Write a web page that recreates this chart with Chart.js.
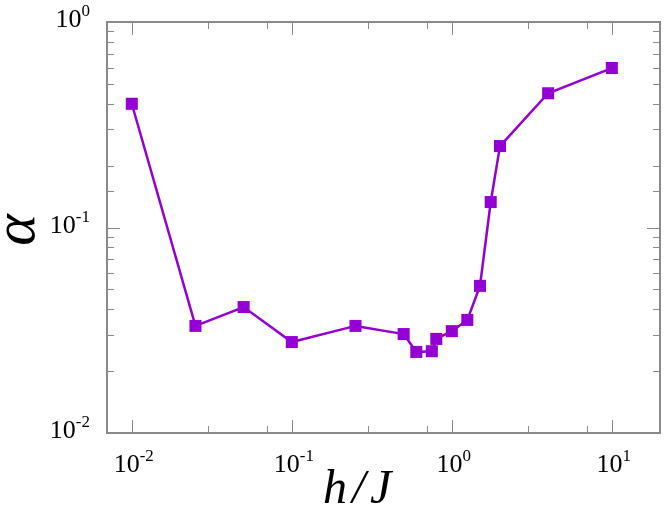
<!DOCTYPE html>
<html>
<head>
<meta charset="UTF-8">
<title>alpha vs h/J</title>
<script src="https://cdn.jsdelivr.net/npm/chart.js@4/dist/chart.umd.min.js"></script>
<style>
  body { margin: 0; background: #fff; }
</style>
</head>
<body>
<canvas id="myChart" width="664" height="512"></canvas>
<script>
// data (log-log)
var hJ    = [0.01, 0.025, 0.05, 0.1, 0.25, 0.5, 0.6, 0.75, 0.8, 1.0, 1.25, 1.5, 1.75, 2, 4, 10];
var alpha = [0.40, 0.0332, 0.041, 0.0277, 0.0332, 0.0303, 0.0248, 0.025, 0.0287, 0.0313, 0.0355, 0.052, 0.133, 0.249, 0.45, 0.597];

// decades that get a "10^n" label
var xDecades = [-2, -1, 0, 1];
var yDecades = [-2, -1, 0];

var SERIF = '"Liberation Serif", "Times New Roman", Times, serif';

var points = hJ.map(function(x, i) { return { x: x, y: alpha[i] }; });

function isDecade(v) {
  var l = Math.log10(v);
  return Math.abs(l - Math.round(l)) < 1e-6;
}

function powLabel(ctx, exp, x, y, align) {
  var base = '10', sup = String(exp);
  ctx.font = '26px ' + SERIF;
  var wb = ctx.measureText(base).width;
  ctx.font = '17px ' + SERIF;
  var ws = ctx.measureText(sup).width;
  var x0 = align === 'right' ? x - wb - ws : x - (wb + ws) / 2;
  ctx.textAlign = 'left';
  ctx.textBaseline = 'alphabetic';
  ctx.font = '26px ' + SERIF;
  ctx.fillText(base, x0, y);
  ctx.font = '17px ' + SERIF;
  ctx.fillText(sup, x0 + wb, y - 11);
}

var frame = {
  id: 'frame',
  afterDatasetsDraw: function(chart) {
    var ctx = chart.ctx, a = chart.chartArea;
    var xs = chart.scales.x, ys = chart.scales.y;
    ctx.save();
    ctx.strokeStyle = '#8a8a8a';
    ctx.lineWidth = 1;
    ctx.beginPath();
    xs.ticks.forEach(function(t) {
      var len = isDecade(t.value) ? 13 : 7;
      var px = Math.round(xs.getPixelForValue(t.value)) + 0.5;
      ctx.moveTo(px, a.bottom); ctx.lineTo(px, a.bottom - len);
      ctx.moveTo(px, a.top); ctx.lineTo(px, a.top + len);
    });
    ys.ticks.forEach(function(t) {
      var len = isDecade(t.value) ? 13 : 7;
      var py = Math.round(ys.getPixelForValue(t.value)) + 0.5;
      ctx.moveTo(a.left, py); ctx.lineTo(a.left + len, py);
      ctx.moveTo(a.right, py); ctx.lineTo(a.right - len, py);
    });
    ctx.stroke();
    ctx.lineWidth = 2;
    ctx.strokeRect(a.left, a.top, a.right - a.left, a.bottom - a.top);

    ctx.fillStyle = '#000';
    xDecades.forEach(function(e) {
      powLabel(ctx, e, xs.getPixelForValue(Math.pow(10, e)) + 2, a.bottom + 39, 'center');
    });
    yDecades.forEach(function(e) {
      powLabel(ctx, e, a.left - 17, ys.getPixelForValue(Math.pow(10, e)) + 5, 'right');
    });

    // axis titles
    ctx.font = 'italic 48px ' + SERIF;
    ctx.textAlign = 'left';
    ctx.textBaseline = 'alphabetic';
    ctx.fillText('h', 323, 503);
    ctx.fillText('/', 352, 503);
    ctx.fillText('J', 370, 503);

    ctx.translate(34, 230);
    ctx.rotate(-Math.PI / 2);
    ctx.textAlign = 'center';
    ctx.font = 'italic 60px ' + SERIF;
    ctx.fillText('\u03b1', 0, 0);
    ctx.restore();
  }
};

function draw() {
  var ctx = document.getElementById('myChart').getContext('2d');
  new Chart(ctx, {
    type: 'scatter',
    data: {
      datasets: [{
        data: points,
        showLine: true,
        borderColor: '#9400d3',
        backgroundColor: '#9400d3',
        borderWidth: 2.5,
        pointStyle: 'rect',
        pointRadius: 8.5,
        pointBorderWidth: 0,
        pointBackgroundColor: '#9400d3'
      }]
    },
    options: {
      responsive: false,
      animation: false,
      layout: { autoPadding: false, padding: { left: 107, top: 22, right: 4, bottom: 79 } },
      plugins: { legend: { display: false }, tooltip: { enabled: false } },
      scales: {
        x: { type: 'logarithmic', min: 0.007, max: 20, display: false },
        y: { type: 'logarithmic', min: 0.01, max: 1, display: false }
      }
    },
    plugins: [frame]
  });
}

Promise.all([
  document.fonts.load('26px "Liberation Serif"'),
  document.fonts.load('italic 48px "Liberation Serif"')
]).then(draw, draw);
</script>
</body>
</html>
